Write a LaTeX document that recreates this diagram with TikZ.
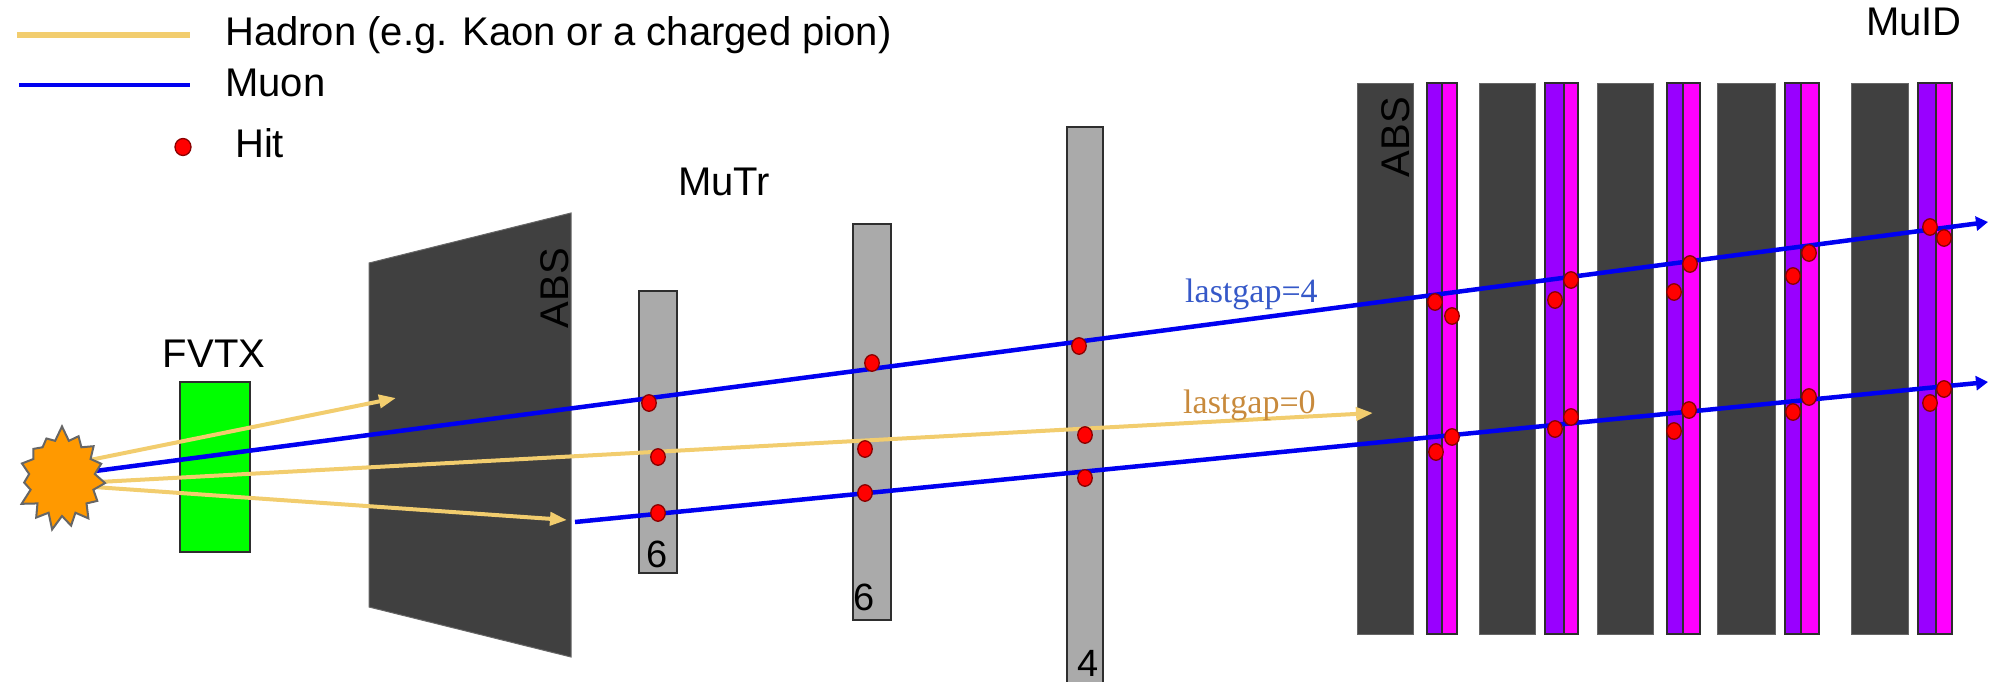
\documentclass[tikz,border=0pt]{standalone}
\usepackage{fontspec}
\setmainfont{Liberation Sans}
\newfontfamily\serifface{Liberation Serif}
\usetikzlibrary{arrows.meta,shapes.symbols,shapes.geometric}

\definecolor{absgray}{HTML}{404040}
\definecolor{edgegray}{HTML}{2E2E2E}
\definecolor{mutrgray}{HTML}{AAAAAA}
\definecolor{stripviolet}{HTML}{9900FF}
\definecolor{stripmagenta}{HTML}{FF00FF}
\definecolor{fvtxgreen}{HTML}{00FF00}
\definecolor{burst}{HTML}{FF9900}
\definecolor{burstedge}{HTML}{666666}
\definecolor{hadroncol}{HTML}{F2CD6E}
\definecolor{muoncol}{HTML}{0000F0}
\definecolor{hitedge}{HTML}{8A0000}
\definecolor{gapfour}{HTML}{3558C8}
\definecolor{gapzero}{HTML}{C88A3C}

\begin{document}
\begin{tikzpicture}[x=1pt,y=-1pt,
  lbl/.style={font=\fontsize{40}{48}\selectfont, inner sep=0pt, text=black},
  num/.style={font=\fontsize{38}{46}\selectfont, inner sep=0pt, text=black},
  gaplbl/.style={font=\serifface\fontsize{34}{40}\selectfont, inner sep=0pt},
  absblock/.style={fill=absgray, draw=absgray!80!white, line width=1pt},
  station/.style={fill=mutrgray, draw=edgegray, line width=1.5pt},
  hadron/.style={draw=hadroncol, line width=4pt,
    -{Triangle[length=17pt,width=13pt]}},
  muon/.style={draw=muoncol, line width=4.5pt,
    -{Triangle[length=12pt,width=14pt]}},
  hit/.style={ellipse, draw=hitedge, fill=red, line width=1.3pt,
    minimum width=14.5pt, minimum height=16.5pt, inner sep=0pt}]

\useasboundingbox (0,0) rectangle (1990,681);
\clip (0,0) rectangle (1990,681);

% ---------- legend ----------
\coordinate (lgh0) at (17,35);  \coordinate (lgh1) at (190,35);
\coordinate (lgm0) at (19,85);  \coordinate (lgm1) at (190,85);
\draw[draw=hadroncol, line width=5.5pt] (lgh0) -- (lgh1);
\draw[draw=muoncol, line width=4.5pt] (lgm0) -- (lgm1);
\node[lbl, anchor=base west] (lghtext) at (225,45) {Hadron (e.g. Kaon or a charged pion)};
\node[lbl, anchor=base west] (lgmtext) at (225,96) {Muon};
\node[hit, minimum width=16pt, minimum height=17pt] (lghit) at (183,147) {};
\node[lbl, anchor=base west] (lghittext) at (235,157) {Hit};

% ---------- FVTX ----------
\filldraw[fill=fvtxgreen, draw=edgegray, line width=1.5pt] (180,382) rectangle (250,552);
\node[lbl, anchor=base] (fvtx) at (214,367) {FVTX};

% ---------- front absorber ----------
\filldraw[fill=absgray, draw=burstedge, line width=1pt]
  (369,263) -- (571,213) -- (571,657) -- (369,607) -- cycle;
\node[lbl, rotate=90] (abs1) at (555,288) {ABS};

% ---------- MuTr stations ----------
\filldraw[station] (639,291) rectangle (677,573);
\filldraw[station] (853,224) rectangle (891,620);
\filldraw[station] (1067,127) rectangle (1103,700);
\node[num, anchor=base] (st1) at (657,567) {6};
\node[num, anchor=base] (st2) at (864,610) {6};
\node[num, anchor=base] (st3) at (1088,676) {4};
\node[lbl, anchor=base] (mutr) at (724,195) {MuTr};

% ---------- MuID ----------
\foreach \a/\b in {1357/1413, 1479/1535, 1597/1653, 1717/1775, 1851/1908}
  \filldraw[absblock] (\a,83) rectangle (\b,634);
\foreach \a/\m/\b in {1427/1442/1457, 1545/1564/1578, 1667/1683/1700,
                      1785/1801/1819, 1918/1936/1952} {
  \fill[stripviolet] (\a,83) rectangle (\m,634);
  \fill[stripmagenta] (\m,83) rectangle (\b,634);
  \draw[edgegray, line width=1.2pt] (\a,83) rectangle (\b,634) (\m,83) -- (\m,634);
}
\node[lbl, rotate=90] (abs2) at (1396,137) {ABS};
\node[lbl, anchor=base] (muid) at (1914,35) {MuID};

% ---------- tracks ----------
\coordinate (ha0) at (80,462);  \coordinate (ha1) at (396,398);
\coordinate (hb0) at (80,483);  \coordinate (hb1) at (1373,413);
\coordinate (hc0) at (80,486);  \coordinate (hc1) at (567,520);
\coordinate (mu0) at (80,473);  \coordinate (mu1) at (1988,222);
\coordinate (ml0) at (575,522); \coordinate (ml1) at (1988,382);

\draw[hadron] (ha0) -- (ha1);
\draw[hadron] (hb0) -- (hb1);
\draw[hadron] (hc0) -- (hc1);
\draw[muon] (mu0) -- (mu1);
\draw[muon] (ml0) -- (ml1);

\node[gaplbl, text=gapfour, anchor=base west] (gap4) at (1185,302) {lastgap=4};
\node[gaplbl, text=gapzero, anchor=base west] (gap0) at (1183,413) {lastgap=0};

% ---------- hits ----------
\foreach \x/\y in {649/403, 658/457, 658/513,
                   872/363, 865/449, 865/493,
                   1079/346, 1085/435, 1085/478,
                   1435/302, 1452/316, 1555/300, 1571/280, 1674/292,
                   1690/264, 1793/276, 1809/253, 1930/227, 1944/238,
                   1452/437, 1436/452, 1555/429, 1571/417, 1674/431,
                   1689/410, 1793/412, 1809/397, 1930/403, 1944/389}
  \node[hit] (hit-\x-\y) at (\x,\y) {};

% ---------- interaction point ----------
\node[starburst, starburst points=15, starburst point height=15pt,
      random starburst=7, minimum width=96pt, minimum height=106pt,
      fill=burst, draw=burstedge, line width=2pt, inner sep=0pt] (ip) at (62,478) {};

\end{tikzpicture}
\end{document}
